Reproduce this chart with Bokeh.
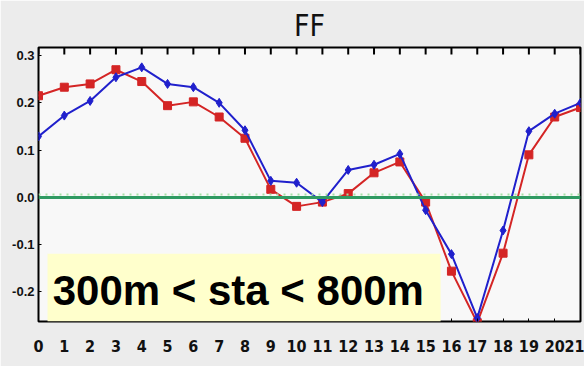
from bokeh.plotting import figure
from bokeh.models import Range1d, Span, BoxAnnotation, Label, FixedTicker
from bokeh.embed import file_html
from bokeh.resources import INLINE

# Hourly FF bias for stations between 300 m and 800 m
hours = list(range(22))
red_series = [0.215, 0.233, 0.240, 0.270, 0.245, 0.194, 0.202, 0.170, 0.125, 0.017, -0.019,
              -0.010, 0.008, 0.052, 0.075, -0.010, -0.156, -0.265, -0.118, 0.090, 0.170, 0.190]
blue_series = [0.129, 0.173, 0.204, 0.254, 0.275, 0.240, 0.233, 0.200, 0.142, 0.035, 0.031,
               -0.010, 0.058, 0.069, 0.092, -0.027, -0.120, -0.255, -0.070, 0.140, 0.177, 0.200]
y_ticks = [-0.2, -0.1, 0.0, 0.1, 0.2, 0.3]
y_tick_labels = {-0.2: "-0.2", -0.1: "-0.1", 0.0: "0.0", 0.1: "0.1", 0.2: "0.2", 0.3: "0.3"}
title_text = "FF"
header_text = "ra"
box_text = "300m < sta < 800m"

Y_MIN, Y_MAX = -0.2625, 0.317
NARROW = "Liberation Sans Narrow, DejaVu Sans Condensed, Liberation Sans"

p = figure(width=584, height=366, output_backend="svg", toolbar_location=None,
           x_range=Range1d(0, 21), y_range=Range1d(Y_MIN, Y_MAX),
           min_border_left=38, min_border_right=4, min_border_top=43, min_border_bottom=45,
           background_fill_color="#f8f8f8", border_fill_color="#ececec",
           outline_line_color="black", outline_line_width=2)

p.title.text = title_text
p.title.align = "center"
p.title.text_font = NARROW
p.title.text_font_size = "30px"
p.title.text_font_style = "normal"
p.title.text_color = "#111111"

p.grid.visible = False

# bottom axis: every hour
xa = p.xaxis[0]
xa.ticker = FixedTicker(ticks=hours)
xa.major_tick_in = 3
xa.major_tick_out = 0
xa.minor_tick_line_color = None
xa.axis_line_color = None
xa.major_label_standoff = 18
xa.major_label_text_font = NARROW
xa.major_label_text_font_style = "bold"
xa.major_label_text_font_size = "16px"
xa.major_label_text_color = "#111111"

ya = p.yaxis[0]
ya.ticker = FixedTicker(ticks=y_ticks)
ya.major_label_overrides = y_tick_labels
ya.major_tick_in = 3
ya.major_tick_out = 0
ya.minor_tick_line_color = None
ya.axis_line_color = None
ya.major_label_standoff = 4
ya.major_label_text_font = "Liberation Sans"
ya.major_label_text_font_style = "bold"
ya.major_label_text_font_size = "13px"
ya.major_label_text_color = "#111111"

# inward hour ticks along the top edge of the frame
tick_len = (Y_MAX - Y_MIN) * 7 / 278
p.segment(x0=hours, y0=[Y_MAX] * len(hours), x1=hours, y1=[Y_MAX - tick_len] * len(hours),
          line_color="black", line_width=2)

# zero reference lines
p.add_layout(Span(location=0.006, dimension="width", line_color="#a6e0a6",
                  line_width=2, line_dash="2 5"))
p.add_layout(Span(location=0.0, dimension="width", line_color="#2f9a62", line_width=3))

p.line(hours, red_series, line_color="#d42525", line_width=2)
p.scatter(hours, red_series, marker="square", size=8, fill_color="#d42525", line_color="#d42525")
p.line(hours, blue_series, line_color="#2020cc", line_width=2)
p.scatter(hours, blue_series, marker="diamond", size=9, fill_color="#2020cc", line_color="#2020cc")

# station-height label box
p.add_layout(BoxAnnotation(left=0.35, right=15.58, top=-0.119, bottom=Y_MIN,
                           fill_color="#ffffcc", fill_alpha=1.0, line_color=None))
p.add_layout(Label(x=0.55, y=-0.196, text=box_text, text_font="Liberation Sans",
                   text_font_style="bold", text_font_size="42px", text_color="black",
                   text_baseline="middle", text_align="left"))

# small header beside the title (screen offsets from the frame's lower-left corner)
p.add_layout(Label(x=314, y=312, x_units="screen", y_units="screen", text=header_text,
                   text_font="Liberation Sans", text_font_style="bold", text_font_size="10px",
                   text_color="#333333", text_baseline="alphabetic", text_align="left"))

open("out.html", "w").write(file_html(p, INLINE))
